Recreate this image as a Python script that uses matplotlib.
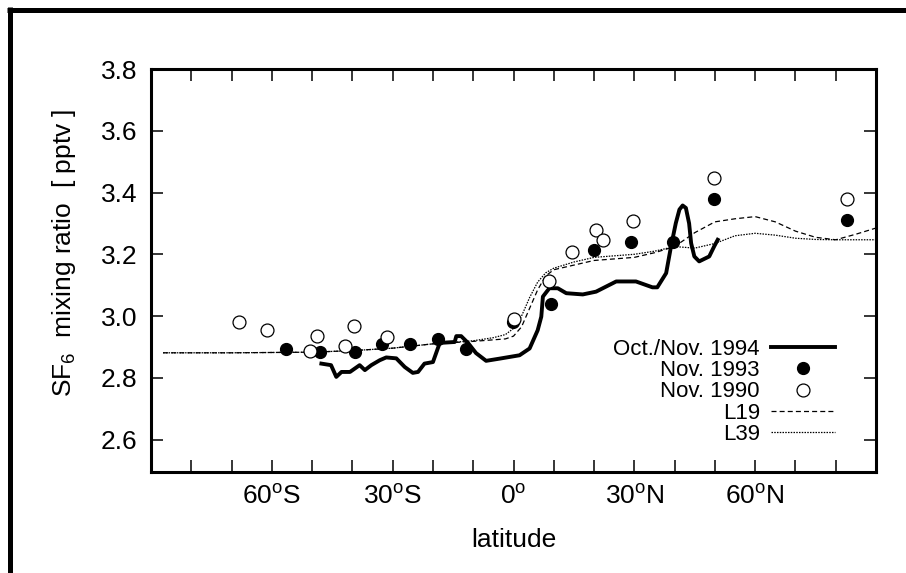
import matplotlib
matplotlib.use("Agg")
import matplotlib.pyplot as plt
from matplotlib.lines import Line2D

plt.rcParams['font.family'] = ['Liberation Sans', 'DejaVu Sans']
plt.rcParams['mathtext.fontset'] = 'custom'
plt.rcParams['mathtext.rm'] = 'Liberation Sans'
plt.rcParams['mathtext.it'] = 'Liberation Sans:italic'
plt.rcParams['mathtext.bf'] = 'Liberation Sans:bold'

# ---------------- data ----------------
# Oct./Nov. 1994 ship track (solid thick line)
lat_1994 = [-47.7, -45.3, -44.0, -42.7, -40.6, -38.2, -36.9, -35.3, -33.2, -31.6,
            -29.1, -27.0, -25.0, -23.7, -22.1, -20.0, -18.8, -18.3, -14.6, -14.2,
            -13.0, -11.3, -9.3, -6.8, -3.5, 1.5, 4.0, 6.0, 6.9, 7.3,
            8.9, 11.0, 13.1, 17.2, 20.5, 25.5, 30.4, 34.5, 35.7, 37.9,
            39.1, 40.3, 41.2, 42.0, 42.8, 43.6, 44.1, 44.9, 46.1, 48.6,
            49.8, 50.7]
sf6_1994 = [2.846, 2.841, 2.803, 2.819, 2.819, 2.841, 2.825, 2.841, 2.857, 2.866,
            2.863, 2.835, 2.816, 2.819, 2.846, 2.851, 2.895, 2.913, 2.916, 2.935,
            2.935, 2.913, 2.880, 2.855, 2.862, 2.873, 2.895, 2.954, 2.998, 3.063,
            3.090, 3.090, 3.074, 3.070, 3.079, 3.112, 3.112, 3.093, 3.093, 3.139,
            3.225, 3.301, 3.345, 3.358, 3.350, 3.300, 3.236, 3.193, 3.177, 3.193,
            3.225, 3.247]

# Nov. 1993 (filled circles)
lat_1993 = [-56.5, -48.1, -39.4, -32.7, -25.8, -18.8, -11.7, -0.2, 9.3, 20.1, 29.2, 39.5, 49.8, 82.9]
sf6_1993 = [2.893, 2.882, 2.882, 2.908, 2.909, 2.927, 2.893, 2.981, 3.039, 3.215, 3.240, 3.240, 3.380, 3.310]

# Nov. 1990 (open circles)
lat_1990 = [-68.1, -61.1, -50.6, -48.7, -41.9, -39.6, -31.3, 0.0, 8.8, 14.5, 20.5, 22.1, 29.6, 49.8, 82.9]
sf6_1990 = [2.981, 2.954, 2.886, 2.935, 2.903, 2.968, 2.933, 2.989, 3.114, 3.206, 3.280, 3.245, 3.307, 3.448, 3.380]

# Model L19 (dashed) and L39 (dotted)
lat_model = [-87, -70, -50, -40, -30, -20, -10, -5, -2, 0, 2, 4, 6, 8, 10, 15, 20, 25,
             30, 35, 40, 45, 50, 55, 60, 65, 70, 75, 80, 85, 90]
sf6_L19 = [2.881, 2.881, 2.883, 2.888, 2.896, 2.910, 2.918, 2.923, 2.926, 2.935, 2.965, 3.025,
           3.085, 3.130, 3.150, 3.165, 3.180, 3.185, 3.190, 3.205, 3.225, 3.270, 3.305, 3.315,
           3.322, 3.305, 3.275, 3.255, 3.247, 3.265, 3.285]
sf6_L39 = [2.881, 2.881, 2.883, 2.888, 2.896, 2.910, 2.920, 2.930, 2.940, 2.960, 3.000, 3.060,
           3.110, 3.140, 3.155, 3.175, 3.190, 3.195, 3.200, 3.210, 3.225, 3.220, 3.235, 3.260,
           3.268, 3.262, 3.252, 3.248, 3.247, 3.247, 3.247]

x_ticks = [-80, -70, -60, -50, -40, -30, -20, -10, 0, 10, 20, 30, 40, 50, 60, 70, 80]
x_tick_labels = ['', '', r'60$^{\mathrm{o}}$S', '', '', r'30$^{\mathrm{o}}$S', '', '', r'0$^{\mathrm{o}}$',
                 '', '', r'30$^{\mathrm{o}}$N', '', '', r'60$^{\mathrm{o}}$N', '', '']
y_ticks = [2.6, 2.8, 3.0, 3.2, 3.4, 3.6, 3.8]
y_tick_labels = ['2.6', '2.8', '3.0', '3.2', '3.4', '3.6', '3.8']

legend_labels = ['Oct./Nov. 1994', 'Nov. 1993', 'Nov. 1990', 'L19', 'L39']

# ---------------- figure ----------------
W, H = 906, 573
fig = plt.figure(figsize=(W / 100, H / 100), dpi=100)
ax = fig.add_axes([151 / W, 1 - 472 / H, (876 - 151) / W, (472 - 69) / H])

ax.plot(lat_1994, sf6_1994, color='black', lw=2.8, solid_joinstyle='round',
        label=legend_labels[0], zorder=4)
ax.plot(lat_1993, sf6_1993, linestyle='none', marker='o', ms=8.5, mfc='black', mec='black',
        label=legend_labels[1], zorder=5)
ax.plot(lat_1990, sf6_1990, linestyle='none', marker='o', ms=9.3, mfc='white', mec='black',
        mew=0.9, label=legend_labels[2], zorder=5)
ax.plot(lat_model, sf6_L19, color='black', lw=0.9, dashes=(4.0, 2.5),
        label=legend_labels[3], zorder=3)
ax.plot(lat_model, sf6_L39, color='black', lw=0.9, dashes=(1.2, 1.0),
        label=legend_labels[4], zorder=3)

ax.set_xlim(-90, 90)
ax.set_ylim(2.495, 3.8)
ax.set_xticks(x_ticks)
ax.set_xticklabels(x_tick_labels)
ax.set_yticks(y_ticks)
ax.set_yticklabels(y_tick_labels)

ax.tick_params(axis='both', which='both', direction='in', top=True, right=True,
               length=8.6, width=1.1, labelsize=19)
ax.tick_params(axis='x', pad=9)
ax.tick_params(axis='y', pad=10)
for sp in ax.spines.values():
    sp.set_linewidth(2.2)

ax.set_xlabel('latitude', fontsize=19)
ax.xaxis.set_label_coords(0.5, -0.14)
ax.set_ylabel(r'SF$_6$  mixing ratio  [ pptv ]', fontsize=19)
ax.yaxis.set_label_coords(-0.10, 0.545)

leg = ax.legend(loc='lower right', bbox_to_anchor=(0.944, 0.0675), frameon=False,
                markerfirst=False, fontsize=16, handlelength=2.9, handletextpad=0.5,
                labelspacing=0.01, borderpad=0, borderaxespad=0, numpoints=1)

# figure frame (thick line top and left)
fig.add_artist(Line2D([7 / W, 1.0], [1 - 9.5 / H, 1 - 9.5 / H], transform=fig.transFigure,
                      color='black', lw=3.6, solid_capstyle='butt'))
fig.add_artist(Line2D([9.5 / W, 9.5 / W], [0.0, 1 - 7 / H], transform=fig.transFigure,
                      color='black', lw=3.6, solid_capstyle='butt'))

fig.savefig('out.png', dpi=100)
